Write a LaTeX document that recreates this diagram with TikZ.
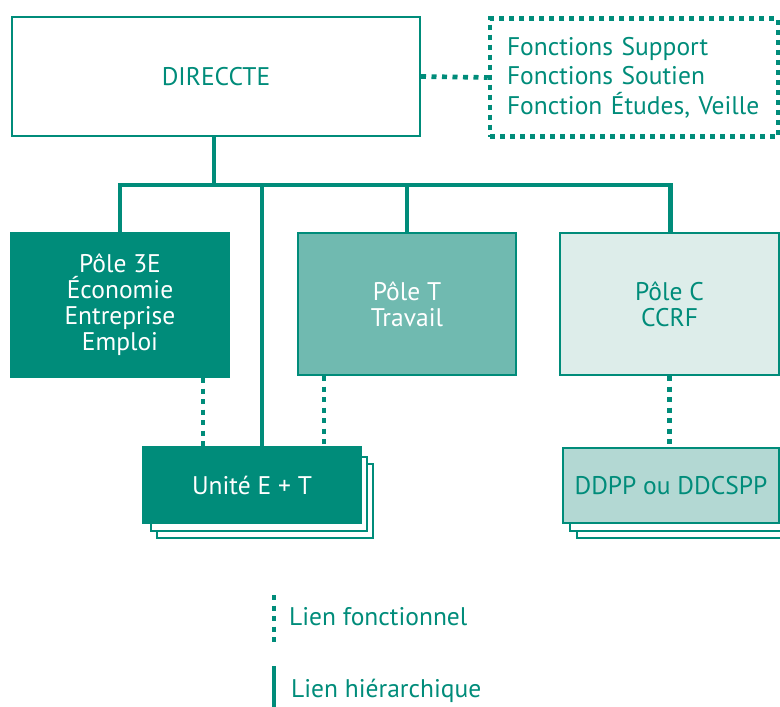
\documentclass[tikz,border=0pt]{standalone}
\usepackage{fontspec}
\setmainfont{PT Sans}
\definecolor{teal1}{RGB}{0,140,122}
\definecolor{tealT}{RGB}{112,186,176}
\definecolor{tealC}{RGB}{221,237,234}
\definecolor{tealD}{RGB}{179,216,211}
\begin{document}
\begin{tikzpicture}[x=1pt,y=-1pt,
  every node/.style={font=\fontsize{25.5}{26}\selectfont, text=teal1},
  box/.style={draw=teal1, line width=2pt, fill=white, inner sep=0pt, align=center},
  hier/.style={draw=teal1, line width=4.5pt},
  func/.style={draw=teal1, line width=4.7pt, dash pattern=on 5pt off 5.5pt},
  shadowbox/.style={draw=teal1, line width=2pt, fill=white}]
\useasboundingbox (0,0) rectangle (780,707);
% top
\node[box, minimum width=408pt, minimum height=119pt] (dir) at (216,76.5) {DIRECCTE};
\node[draw=teal1, line width=4.5pt, dash pattern=on 5pt off 5pt, inner ysep=0pt, inner xsep=17pt,
  minimum height=118pt, text width=254pt, align=left,
  font=\fontsize{25.5}{29.5}\selectfont] (sup) at (634,77.5)
  {Fonctions Support\\Fonctions Soutien\\Fonction Études, Veille};
\draw[func] (dir.east) -- (sup.west);
% poles
\node[box, draw=teal1, fill=teal1, text=white, minimum width=218pt, minimum height=144pt] (p3e) at (120,305)
  {Pôle 3E\\Économie\\Entreprise\\Emploi};
\node[box, fill=tealT, text=white, minimum width=218pt, minimum height=142pt] (pT) at (407,304)
  {Pôle T\\Travail};
\node[box, fill=tealC, minimum width=219pt, minimum height=142pt] (pC) at (669.5,304)
  {Pôle C\\CCRF};
% unite
\draw[shadowbox] (157,464) rectangle (373,538);
\draw[shadowbox] (151,457) rectangle (367,531);
\node[box, fill=teal1, text=white, minimum width=218pt, minimum height=76pt] (unite) at (252,485) {Unité E + T};
% ddpp
\draw[shadowbox] (577,464) rectangle (790,538);
\draw[shadowbox] (570,457) rectangle (790,531);
\node[box, fill=tealD, minimum width=216pt, minimum height=75pt] (ddpp) at (671,485.5) {DDPP ou DDCSPP};
% hierarchy
\coordinate (bar) at (214,185);
\coordinate (barL) at (117.75,185);
\coordinate (barR) at (672.75,185);
\coordinate (jU) at (262,185);
\draw[hier] (dir.south -| bar) -- (bar);
\draw[hier] (barL) -- (barR);
\draw[hier] (p3e.north |- bar) -- (p3e.north);
\draw[hier] (jU) -- (jU |- unite.north);
\draw[hier] (pT.north |- bar) -- (pT.north);
\draw[hier] ([xshift=1pt]pC.north |- bar) -- ([xshift=1pt]pC.north);
% functional
\draw[func] ([xshift=83pt]p3e.south) -- ([xshift=83pt]p3e.south |- unite.north);
\draw[func] ([xshift=-83pt]pT.south) -- ([xshift=-83pt]pT.south |- unite.north);
\draw[func] (pC.south) -- (pC.south |- ddpp.north);
% legend
\coordinate (lf1) at (274,595);
\coordinate (lf2) at (274,643);
\coordinate (lh1) at (274,666);
\coordinate (lh2) at (274,707);
\draw[func] (lf1) -- (lf2);
\draw[hier] (lh1) -- (lh2);
\node[anchor=base west, inner sep=0pt] (lfunc) at (289,625) {Lien fonctionnel};
\node[anchor=base west, inner sep=0pt] (lhier) at (291,697) {Lien hiérarchique};
\end{tikzpicture}
\end{document}
